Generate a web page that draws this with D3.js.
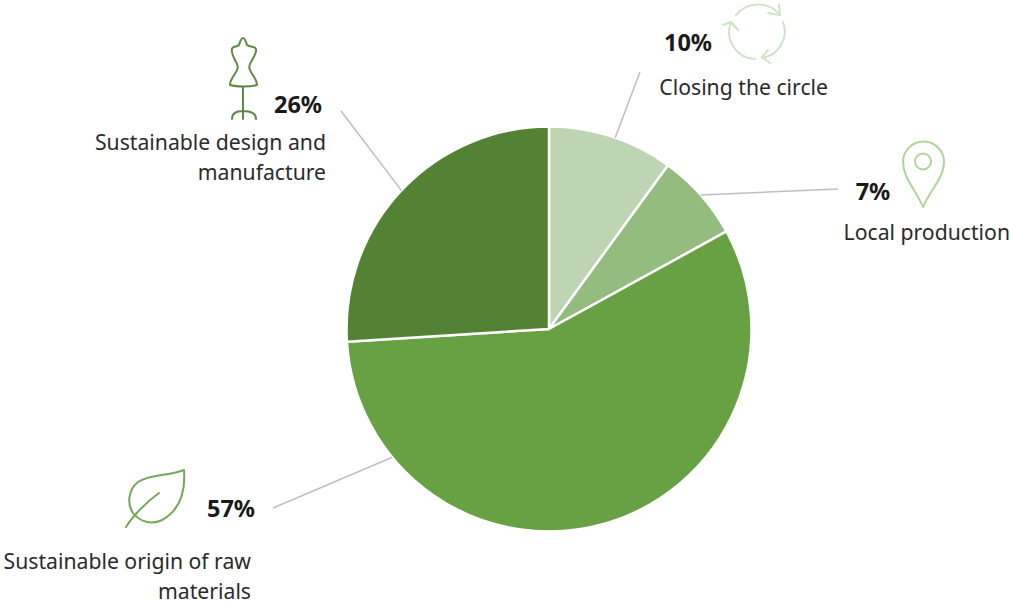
<!DOCTYPE html>
<html>
<head>
<meta charset="utf-8">
<script src="https://cdn.jsdelivr.net/npm/d3@7/dist/d3.min.js"></script>
<style>
html,body{margin:0;padding:0;background:#fff;}
svg{display:block;}
text{font-family:"Noto Sans","Open Sans",sans-serif;fill:#2b2b2b;}
.pct{font-size:23.5px;font-weight:700;fill:#1a1a1a;}
.name{font-size:21.2px;}
</style>
</head>
<body>
<svg id="chart" width="1011" height="602"></svg>
<script>
// Shares of sustainability criteria, clockwise from twelve o'clock
const categories = ["Closing the circle", "Local production", "Sustainable origin of raw materials", "Sustainable design and manufacture"];
const shares = [10, 7, 57, 26];
const sliceColors = ["#BDD5B3", "#93BC7E", "#68A044", "#548235"];

const W = 1011, H = 602, cx = 549, cy = 329, R = 202.5;
const svg = d3.select("#chart").attr("viewBox", [0, 0, W, H]);

const pie = d3.pie().value(d => d.value).sort(null);
const arc = d3.arc().innerRadius(0).outerRadius(R);
const arcs = pie(shares.map((value, i) => ({ value, name: categories[i] })));

const fill = d3.scaleOrdinal().domain(categories).range(sliceColors);

// Callout layout per slice: how far along the slice's rim the leader starts,
// where it ends, the percentage position and the wrapped name lines
const callouts = [
  { along: 0.53, end: [640, 72],  pct: [688, 51],  lines: ["Closing the circle"], name: [828, 95] },
  { along: 0.5,  end: [838, 189], pct: [873, 200], lines: ["Local production"], name: [1010, 240] },
  { along: 0.826, end: [273, 508], pct: [231, 517], lines: ["Sustainable origin of raw", "materials"], name: [251, 569] },
  { along: 0.5,  end: [341, 111], pct: [298, 113], lines: ["Sustainable design and", "manufacture"], name: [326, 150] }
];

const rimAngle = (d, i) => d.startAngle + (d.endAngle - d.startAngle) * callouts[i].along;

const g = svg.append("g").attr("transform", `translate(${cx},${cy})`);
g.selectAll("path").data(arcs).join("path")
  .attr("d", arc)
  .attr("fill", d => fill(d.data.name))
  .attr("stroke", "#fff")
  .attr("stroke-width", 2.5)
  .attr("stroke-linejoin", "round");

svg.append("g").selectAll("line").data(arcs).join("line")
  .attr("x1", (d, i) => cx + R * Math.sin(rimAngle(d, i)))
  .attr("y1", (d, i) => cy - R * Math.cos(rimAngle(d, i)))
  .attr("x2", (d, i) => callouts[i].end[0])
  .attr("y2", (d, i) => callouts[i].end[1])
  .attr("stroke", "#BFBFBF")
  .attr("stroke-width", 1.5);

svg.append("g").selectAll("text").data(arcs).join("text")
  .attr("class", "pct")
  .attr("x", (d, i) => callouts[i].pct[0])
  .attr("y", (d, i) => callouts[i].pct[1])
  .attr("text-anchor", "middle")
  .text(d => d.data.value + "%");

callouts.forEach(c => {
  c.lines.forEach((line, j) => {
    svg.append("text").attr("class", "name")
      .attr("x", c.name[0]).attr("y", c.name[1] + j * 29.5)
      .attr("text-anchor", "end").text(line);
  });
});

// Outline pictograms beside each callout
const icon = (d, stroke, width) => svg.append("path").attr("d", d)
  .attr("fill", "none").attr("stroke", stroke).attr("stroke-width", width)
  .attr("stroke-linecap", "round").attr("stroke-linejoin", "round");

// recycling arrows
const recycle = "#CFE3C6";
icon("M736 15 A28.5 28.5 0 0 1 780 15 M779 5 L780 15 L768 13", recycle, 2);
icon("M783 22 A27 27 0 0 1 762 58 M768 50 L762 57 L770 63", recycle, 2);
icon("M755 59 A27 27 0 0 1 731 22 M723 25 L731 22 L738 30", recycle, 2);

// map pin
icon("M923 207 C916 190 903 178 903 162 A20.5 20.5 0 0 1 944 162 C944 178 930 190 923 207 Z", "#B1D49F", 2);
svg.append("circle").attr("cx", 923).attr("cy", 161.5).attr("r", 8)
  .attr("fill", "none").attr("stroke", "#B1D49F").attr("stroke-width", 2);

// dress form on its stand
icon("M239 45 C240 42 241 38 243 38 C245 38 246 42 247 45 C249 47 255 46 256 49 C257 53 253 58 251 62 C249 65 249 68 250 70 C252 75 257 79 257 85 C250 87 237 87 230 85 C230 79 235 75 237 70 C238 68 238 65 236 62 C234 58 231 53 232 49 C232 46 237 47 239 45 Z", "#5F8A45", 2);
icon("M243 87 L243 119 M232 119 C232 113 237 111 243 111 C250 111 256 113 256 119", "#5F8A45", 2);

// leaf
icon("M184 470 C170 476 150 474 138 482 C128 490 127 504 133 513 C140 522 152 525 162 520 C175 513 186 498 184 470 Z", "#76A85A", 2);
icon("M126 527 C132 517 145 503 159 493", "#76A85A", 2);
</script>
</body>
</html>
